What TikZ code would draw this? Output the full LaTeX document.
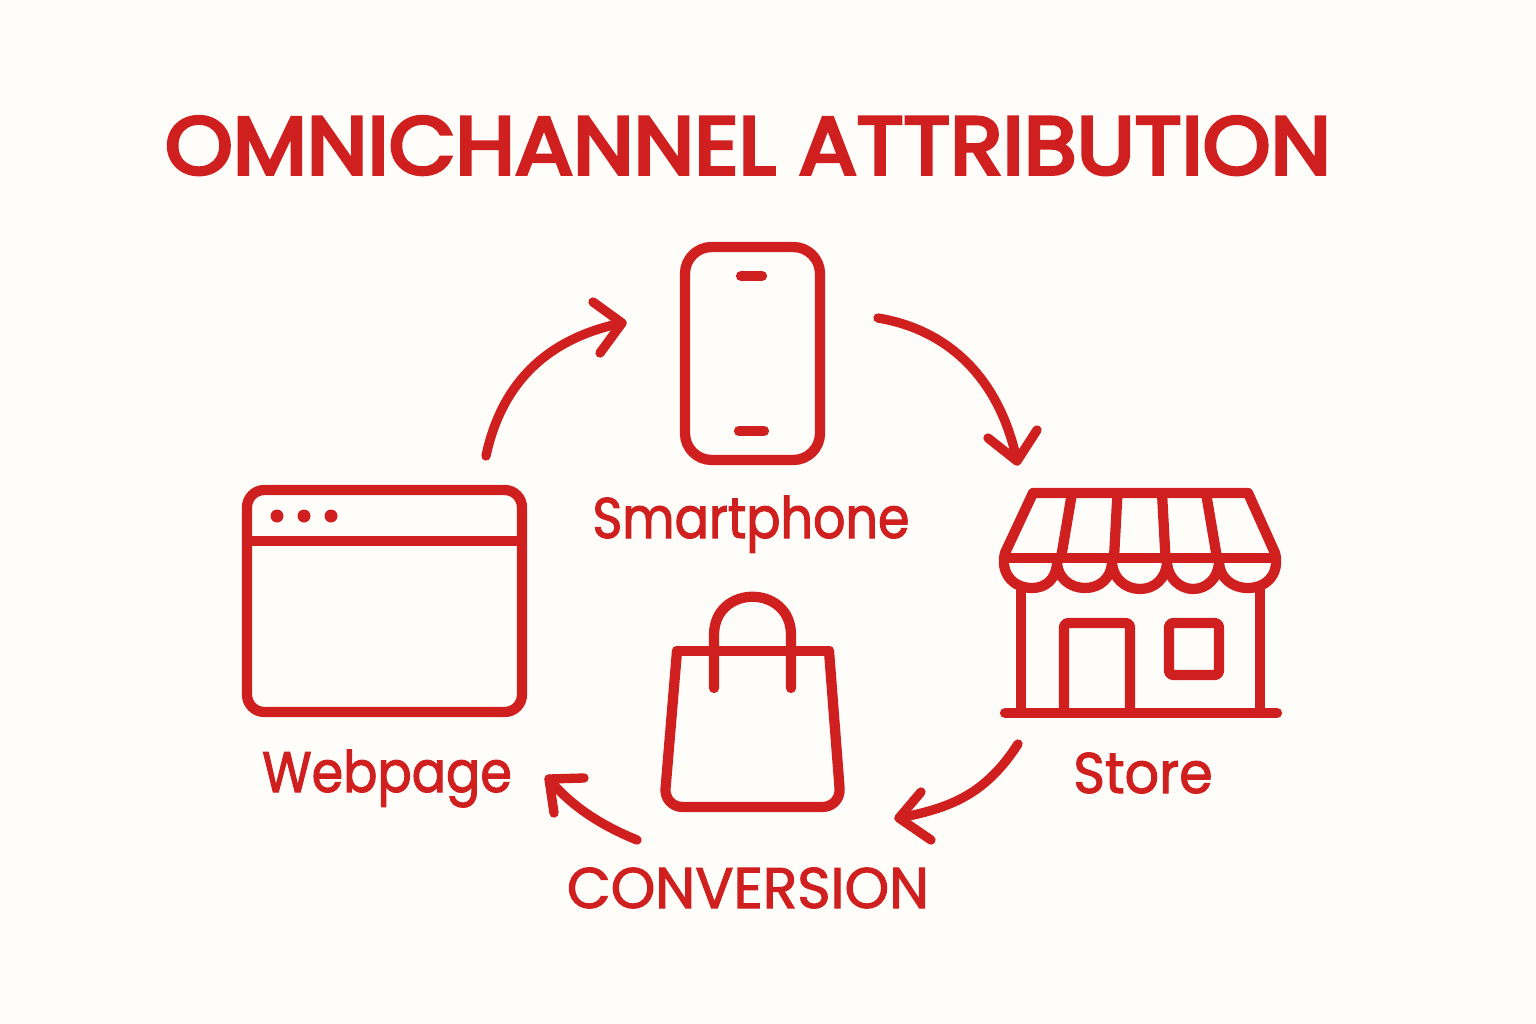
\documentclass[tikz,border=0pt]{standalone}
\usepackage{fontspec}
\setmainfont{Poppins}
\newfontfamily\fa[FakeBold=1.8,FakeStretch=0.885]{Poppins}
\newfontfamily\fb[FakeBold=1.8,FakeStretch=0.94]{Poppins}
\newfontfamily\fc[FakeBold=1.8,FakeStretch=0.99]{Poppins}
\newfontfamily\ft[FakeBold=4.5,FakeStretch=1.06]{Poppins}
\definecolor{rd}{HTML}{CF1F1F}
\definecolor{bgc}{HTML}{FFFDFA}
\tikzset{
 ic/.style={draw=rd,line width=7.7pt,line cap=round,line join=round},
 ar/.style={draw=rd,line width=7pt,line cap=round,line join=round},
 lb/.style={text=rd,inner sep=0pt,anchor=base}
}
\begin{document}
\begin{tikzpicture}[x=0.75pt,y=-0.75pt]
\path[fill=bgc] (0,0) rectangle (1536,1024);
\useasboundingbox (0,0) rectangle (1536,1024);
\node[lb,font=\ft\fontsize{61}{61}\selectfont] (title) at (748,174) {OMNICHANNEL ATTRIBUTION};
\node[lb,font=\fa\fontsize{43}{43}\selectfont] (smart) at (751,538) {Smartphone};
\node[lb,font=\fa\fontsize{43}{43}\selectfont] (web) at (387,792) {Webpage};
\node[lb,font=\fb\fontsize{43}{43}\selectfont] (store) at (1143,793) {Store};
\node[lb,font=\fc\fontsize{43}{43}\selectfont] (conv) at (748,908) {CONVERSION};
% phone
\draw[ic,rounded corners=20] (685,247) rectangle (820,460);
\draw[ic] (741,276) -- (762,276);
\draw[ic] (739,431) -- (764,431);
% web
\draw[ic,rounded corners=13] (247,490) rectangle (522,712);
\draw[ic,line cap=butt] (247,541) -- (522,541);
\fill[rd] (277,516) circle (6.5) (304,516) circle (6.5) (331,516) circle (6.5);
% store
\draw[ic] (1033,493) -- (1248,493) -- (1275,553) (1033,493) -- (1005,553);
\draw[ic] (1005,558) -- (1275,558);
\draw[ic,line cap=butt] (1072,493) -- (1061,558) (1117.5,493) -- (1114,558) (1162,493) -- (1165.5,558) (1206,493) -- (1217,558);
\draw[ic] (1005,553) .. controls (1000,572) and (1012,588) .. (1032,588) .. controls (1045,588) and (1056,580) .. (1057,563)
 .. controls (1058,578) and (1070,588) .. (1085,588) .. controls (1100,588) and (1111,578) .. (1112,563)
 .. controls (1113,578) and (1125,589) .. (1140,589) .. controls (1155,589) and (1166,578) .. (1167,563)
 .. controls (1168,578) and (1180,589) .. (1193,589) .. controls (1207,589) and (1218,578) .. (1219,563)
 .. controls (1220,578) and (1232,588) .. (1248,588) .. controls (1268,588) and (1280,572) .. (1275,553);
\draw[ic,line cap=butt] (1021,586) -- (1021,713) (1260,586) -- (1260,713);
\draw[ic] (1005,713) -- (1277,713);
\draw[ic,line cap=butt,rounded corners=3] (1064,713) -- (1064,623) -- (1130,623) -- (1130,713);
\draw[ic,rounded corners=3] (1169,623) rectangle (1219,675);
% bag
\draw[ic] (677,651) -- (829,651);
\draw[ic,rounded corners=14] (677,651) -- (664,807) -- (841,807) -- (829,651);
\draw[ic] (714,688) -- (714,635) .. controls (714,584) and (791,584) .. (791,635) -- (791,688);
% arrows
\coordinate (a1s) at (486,456); \coordinate (a1e) at (622,323);
\draw[ar] (a1s) .. controls (500,390) and (540,340) .. (a1e);
\draw[ar] (593,302) -- (a1e) -- (600,353);
\coordinate (a2s) at (878,318); \coordinate (a2e) at (1017,461);
\draw[ar] (a2s) .. controls (950,330) and (1000,380) .. (a2e);
\draw[ar] (988,438) -- (a2e) -- (1037,430);
\coordinate (a3s) at (1018,744); \coordinate (a3e) at (899,818);
\draw[ar] (a3s) .. controls (985,795) and (950,808) .. (a3e);
\draw[ar] (921,792) -- (a3e) -- (931,840);
\coordinate (a4s) at (637,840); \coordinate (a4e) at (549,779);
\draw[ar] (a4s) .. controls (600,825) and (570,805) .. (a4e);
\draw[ar] (584,778) -- (a4e) -- (554,813);
\end{tikzpicture}
\end{document}
